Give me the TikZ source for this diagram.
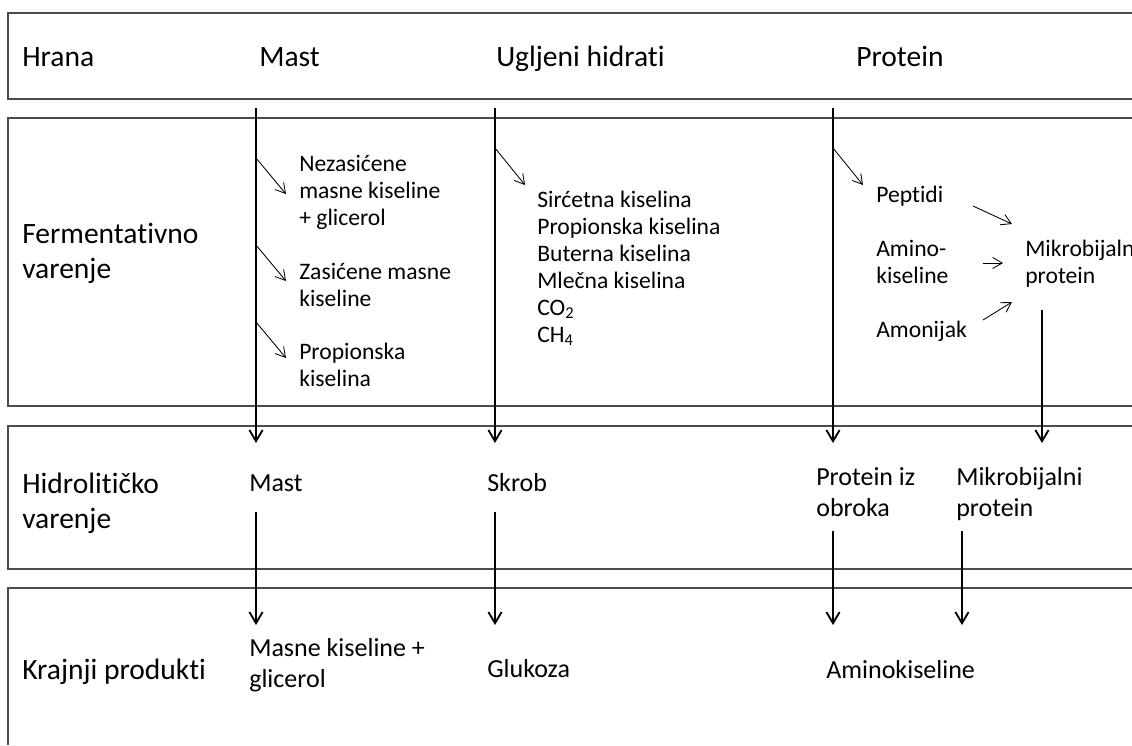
\documentclass[tikz,border=0pt]{standalone}
\usepackage{fontspec}
\setmainfont{Carlito}[Ligatures=NoCommon]
\usetikzlibrary{arrows.meta}

\tikzset{
  band/.style={draw=black!70,line width=0.9pt},
  rowlabel/.style={anchor=base west,inner sep=0pt,align=left,font=\fontsize{21}{24.2}\selectfont},
  item/.style={anchor=base west,inner sep=0pt,align=left,font=\fontsize{16.8}{19.2}\selectfont},
  prod/.style={anchor=base west,inner sep=0pt,align=left,font=\fontsize{18.5}{21.8}\selectfont},
  flow/.style={line width=1.3pt,-{Straight Barb[length=2.8mm,width=3.3mm]}},
  branch/.style={line width=0.6pt,-{Straight Barb[length=2.4mm,width=2.8mm]}}
}

\begin{document}
\begin{tikzpicture}[x=0.025cm,y=-0.025cm]
\useasboundingbox (0,0) rectangle (1132,745);
\draw[band] (1132,13)--(8,13)--(8,99)--(1132,99);
\draw[band] (1132,118)--(8,118)--(8,406)--(1132,406);
\draw[band] (1132,426)--(8,426)--(8,569)--(1132,569);
\draw[band] (1132,588)--(8,588)--(8,745);

\node[rowlabel] (hrana) at (22,66) {Hrana};
\node[rowlabel] (hmast) at (259,66) {Mast};
\node[rowlabel] (hugh) at (496,66) {Ugljeni hidrati};
\node[rowlabel] (hprot) at (856,66) {Protein};

\node[rowlabel] (ferm) at (22,278) {Fermentativno\\varenje};
\node[rowlabel] (hidro) at (22,528) {Hidrolitičko\\varenje};
\node[rowlabel] (kraj) at (22,679) {Krajnji produkti};

\node[item] (nezas) at (299,225) {Nezasićene\\masne kiseline\\+ glicerol};
\node[item] (zasic) at (299,306) {Zasićene masne\\kiseline};
\node[item] (propm) at (299,386) {Propionska\\kiselina};
\node[item] (kisel) at (537,342) {Sirćetna kiselina\\Propionska kiselina\\Buterna kiselina\\Mlečna kiselina\\CO\textsubscript{2}\\CH\textsubscript{4}};
\node[item] (pept) at (876,202) {Peptidi};
\node[item] (amino) at (876,283) {Amino-\\kiseline};
\node[item] (amon) at (876,337) {Amonijak};
\node[item] (mikro) at (1025,283) {Mikrobijalni\\protein};

\node[prod] (mast) at (249,491) {Mast};
\node[prod] (skrob) at (487,491) {Skrob};
\node[prod] (pobr) at (816,516) {Protein iz\\obroka};
\node[prod] (pmik) at (956,516) {Mikrobijalni\\protein};

\node[prod] (masne) at (249,687) {Masne kiseline +\\glicerol};
\node[prod] (gluk) at (487,677) {Glukoza};
\node[prod] (amk) at (826,678) {Aminokiseline};

\coordinate (m0) at (256,108);
\coordinate (m1) at (256,443);
\coordinate (m2) at (256,512);
\coordinate (m3) at (256,625);
\coordinate (u0) at (495,108);
\coordinate (u1) at (495,443);
\coordinate (u2) at (495,512);
\coordinate (u3) at (495,625);
\coordinate (p0) at (833,108);
\coordinate (p1) at (833,443);
\coordinate (p2) at (833,531);
\coordinate (p3) at (833,625);
\coordinate (k0) at (1042,310);
\coordinate (k1) at (1042,443);
\coordinate (k2) at (962,531);
\coordinate (k3) at (962,625);

\draw[flow] (m0)--(m1);
\draw[flow] (u0)--(u1);
\draw[flow] (p0)--(p1);
\draw[flow] (k0)--(k1);
\draw[flow] (m2)--(m3);
\draw[flow] (u2)--(u3);
\draw[flow] (p2)--(p3);
\draw[flow] (k2)--(k3);

\coordinate (a1) at (256,158);
\coordinate (b1) at (286,194);
\coordinate (a2) at (256,245);
\coordinate (b2) at (286,281);
\coordinate (a3) at (256,322);
\coordinate (b3) at (286,358);
\coordinate (a4) at (495,148);
\coordinate (b4) at (525,185);
\coordinate (a5) at (833,148);
\coordinate (b5) at (863,185);
\coordinate (a6) at (973,206);
\coordinate (b6) at (1012,224);
\coordinate (a7) at (983,263);
\coordinate (b7) at (1003,263);
\coordinate (a8) at (983,320);
\coordinate (b8) at (1012,302);
\foreach \i in {1,...,8}
  \draw[branch] (a\i)--(b\i);
\end{tikzpicture}
\end{document}
